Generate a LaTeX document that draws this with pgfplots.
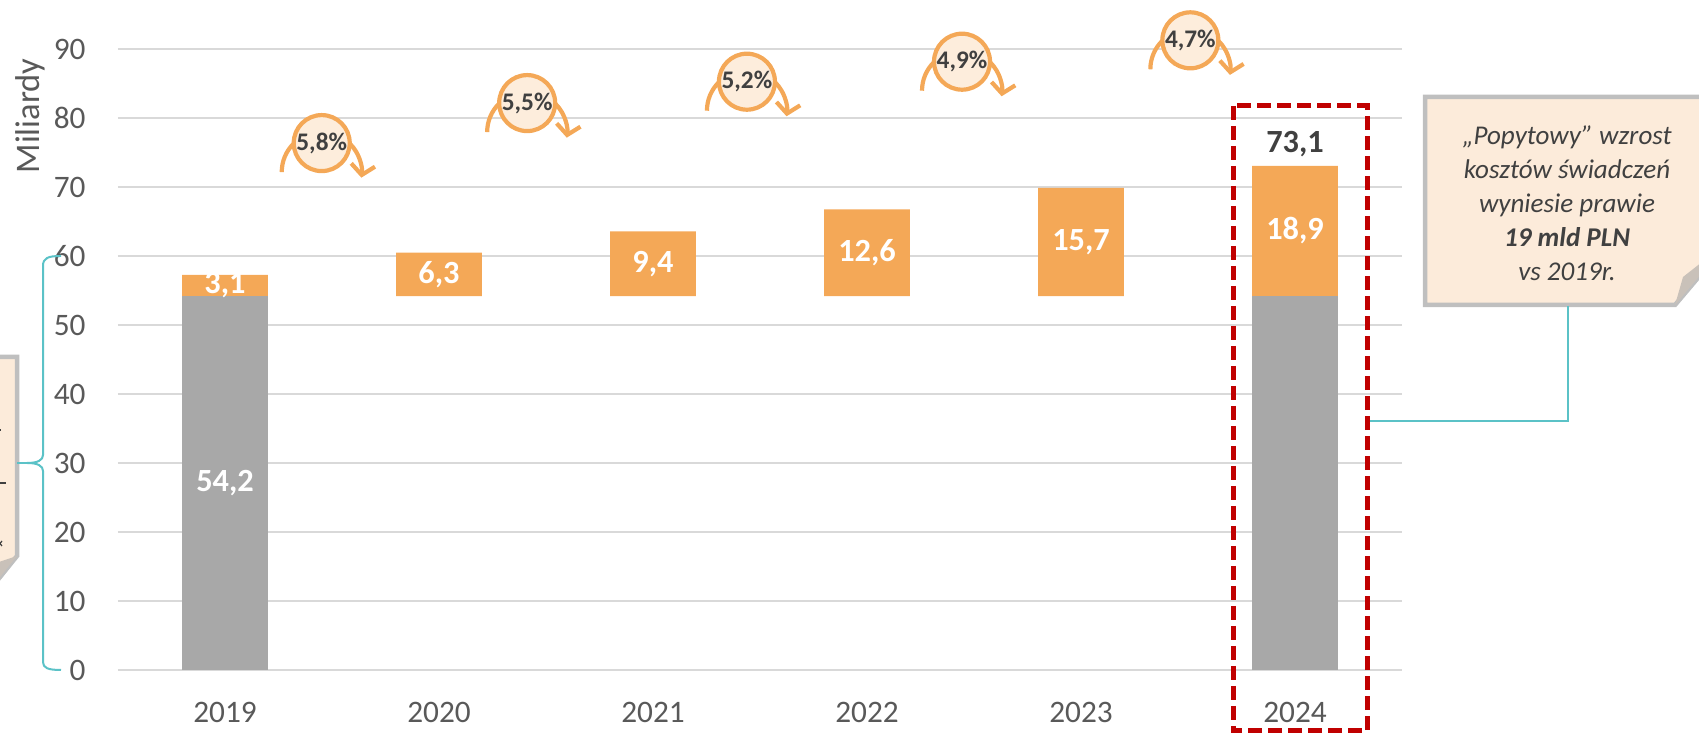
\documentclass[border=0pt]{standalone}
\usepackage{fontspec}
\setmainfont{Carlito}
\usepackage{pgfplots}
\pgfplotsset{compat=1.18}
\usetikzlibrary{arrows.meta}
\definecolor{barOrange}{HTML}{F4A857}
\definecolor{barGray}{HTML}{A8A8A8}
\definecolor{circFill}{HTML}{FDEDDC}
\definecolor{boxFill}{HTML}{FCEBDA}
\definecolor{boxBorder}{HTML}{BFBFBF}
\definecolor{flap}{HTML}{C9C1B9}
\definecolor{tealC}{HTML}{5BC2C7}
\definecolor{redDash}{HTML}{C00000}
\definecolor{textDark}{HTML}{404040}
\definecolor{tickGray}{HTML}{595959}
\definecolor{gridGray}{HTML}{D9D9D9}
\pgfplotsset{myframe/.style={
  at={(11.8mm,6.7mm)}, anchor=south west, scale only axis,
  width=128.4mm, height=62.07mm,
  xmin=-0.5, xmax=5.5, ymin=0, ymax=90, clip=false}}
\begin{document}
\begin{tikzpicture}
\useasboundingbox (0,0) rectangle (169.9mm,73.7mm);
\clip (0,0) rectangle (169.9mm,73.7mm);
\begin{axis}[
  myframe,
  ytick={0,10,20,30,40,50,60,70,80,90},
  yticklabels={0,10,20,30,40,50,60,70,80,90},
  xtick={0,1,2,3,4,5},
  xticklabels={2019,2020,2021,2022,2023,2024},
  axis line style={draw=none},
  major tick length=0pt,
  ymajorgrids, grid style={gridGray, line width=0.22mm},
  ticklabel style={font=\fontsize{8.9}{10}\selectfont, text=tickGray},
  yticklabel style={xshift=-2.0mm},
  xticklabel style={yshift=-2mm},
  ybar stacked, bar width=0.4,
]
\addplot[fill=barGray, draw=none] coordinates {(0,54.2) (1,0) (2,0) (3,0) (4,0) (5,54.2)};
\addplot[fill=white, fill opacity=0, draw=none] coordinates {(0,0) (1,54.2) (2,54.2) (3,54.2) (4,54.2) (5,0)};
\addplot[fill=barOrange, draw=none] coordinates {(0,3.1) (1,6.3) (2,9.4) (3,12.6) (4,15.7) (5,18.9)};
\end{axis}

\begin{axis}[myframe, hide axis]
\node[font=\bfseries\fontsize{9.2}{10}\selectfont, text=white] at (axis cs:0,27.1) {54,2};
\node[font=\bfseries\fontsize{9.2}{10}\selectfont, text=white] at (axis cs:0,55.8) {3,1};
\node[font=\bfseries\fontsize{9.2}{10}\selectfont, text=white] at (axis cs:1,57.35) {6,3};
\node[font=\bfseries\fontsize{9.2}{10}\selectfont, text=white] at (axis cs:2,58.9) {9,4};
\node[font=\bfseries\fontsize{9.2}{10}\selectfont, text=white] at (axis cs:3,60.5) {12,6};
\node[font=\bfseries\fontsize{9.2}{10}\selectfont, text=white] at (axis cs:4,62.05) {15,7};
\node[font=\bfseries\fontsize{9.2}{10}\selectfont, text=white] at (axis cs:5,63.65) {18,9};
\node[font=\bfseries\fontsize{9.2}{10}\selectfont, text=textDark] at (axis cs:5,76.3) {73,1};

\draw[barOrange, line width=0.42mm, -{Straight Barb[length=1mm,width=2.4mm]}] (axis cs:0.452,76.4) ++(-4mm,-2.9mm) arc[start angle=180, end angle=-8, radius=4mm];
\draw[barOrange, line width=0.42mm, fill=circFill] (axis cs:0.452,76.4) circle[radius=2.8mm];
\node[font=\bfseries\fontsize{7.2}{8}\selectfont, text=textDark] at (axis cs:0.452,76.4) {5,8\%};

\draw[barOrange, line width=0.42mm, -{Straight Barb[length=1mm,width=2.4mm]}] (axis cs:1.412,82.2) ++(-4mm,-2.9mm) arc[start angle=180, end angle=-8, radius=4mm];
\draw[barOrange, line width=0.42mm, fill=circFill] (axis cs:1.412,82.2) circle[radius=2.8mm];
\node[font=\bfseries\fontsize{7.2}{8}\selectfont, text=textDark] at (axis cs:1.412,82.2) {5,5\%};

\draw[barOrange, line width=0.42mm, -{Straight Barb[length=1mm,width=2.4mm]}] (axis cs:2.439,85.3) ++(-4mm,-2.9mm) arc[start angle=180, end angle=-8, radius=4mm];
\draw[barOrange, line width=0.42mm, fill=circFill] (axis cs:2.439,85.3) circle[radius=2.8mm];
\node[font=\bfseries\fontsize{7.2}{8}\selectfont, text=textDark] at (axis cs:2.439,85.3) {5,2\%};

\draw[barOrange, line width=0.42mm, -{Straight Barb[length=1mm,width=2.4mm]}] (axis cs:3.444,88.2) ++(-4mm,-2.9mm) arc[start angle=180, end angle=-8, radius=4mm];
\draw[barOrange, line width=0.42mm, fill=circFill] (axis cs:3.444,88.2) circle[radius=2.8mm];
\node[font=\bfseries\fontsize{7.2}{8}\selectfont, text=textDark] at (axis cs:3.444,88.2) {4,9\%};

\draw[barOrange, line width=0.42mm, -{Straight Barb[length=1mm,width=2.4mm]}] (axis cs:4.511,91.3) ++(-4mm,-2.9mm) arc[start angle=180, end angle=-8, radius=4mm];
\draw[barOrange, line width=0.42mm, fill=circFill] (axis cs:4.511,91.3) circle[radius=2.8mm];
\node[font=\bfseries\fontsize{7.2}{8}\selectfont, text=textDark] at (axis cs:4.511,91.3) {4,7\%};
\end{axis}

\begin{scope}[x=0.1mm,y=-0.1mm,shift={(0,73.7mm)}]
  \node[rotate=90, font=\fontsize{9.8}{11}\selectfont, text=tickGray] at (30,116) {Miliardy};
  \draw[boxBorder, line width=0.45mm, fill=boxFill] (-300,357) -- (17,357) -- (17,556) -- (-12,592) -- (-300,592) -- cycle;
  \fill[flap] (17,556) -- (-12,592) -- (-4,563) -- cycle;
  \draw[textDark, line width=0.15mm] (-2,430) -- (1,430);
  \draw[textDark, line width=0.15mm] (-2,483) -- (6,483);
  \draw[textDark, line width=0.12mm] (-2,541) -- (2,546) (-2,546) -- (2,541);
  \draw[tealC, line width=0.2mm] (61,256) .. controls (48,256) and (43,258) .. (43,266) -- (43,455)
     .. controls (43,460) and (38,463) .. (27,463) .. controls (38,463) and (43,466) .. (43,471)
     -- (43,662) .. controls (43,668) and (48,670) .. (61,670);
  \draw[tealC, line width=0.2mm] (27,463) -- (17,463);
  \draw[boxBorder, line width=0.45mm, fill=boxFill] (1425,97) -- (1730,97) -- (1730,240) -- (1675,305) -- (1425,305) -- cycle;
  \fill[flap] (1675,305) -- (1683,277) -- (1730,240) -- cycle;
  \node[align=center, text=textDark, font=\itshape\fontsize{7.7}{9.67}\selectfont] at (1567,203)
    {„Popytowy” wzrost\\kosztów świadczeń\\wyniesie prawie\\\textbf{19 mld PLN}\\vs 2019r.};
  \draw[tealC, line width=0.2mm] (1568,306) -- (1568,421) -- (1367,421);
  \draw[redDash, line width=0.5mm, dash pattern=on 1.4mm off 0.6mm] (1233,106) rectangle (1367,731);
\end{scope}
\end{tikzpicture}
\end{document}
